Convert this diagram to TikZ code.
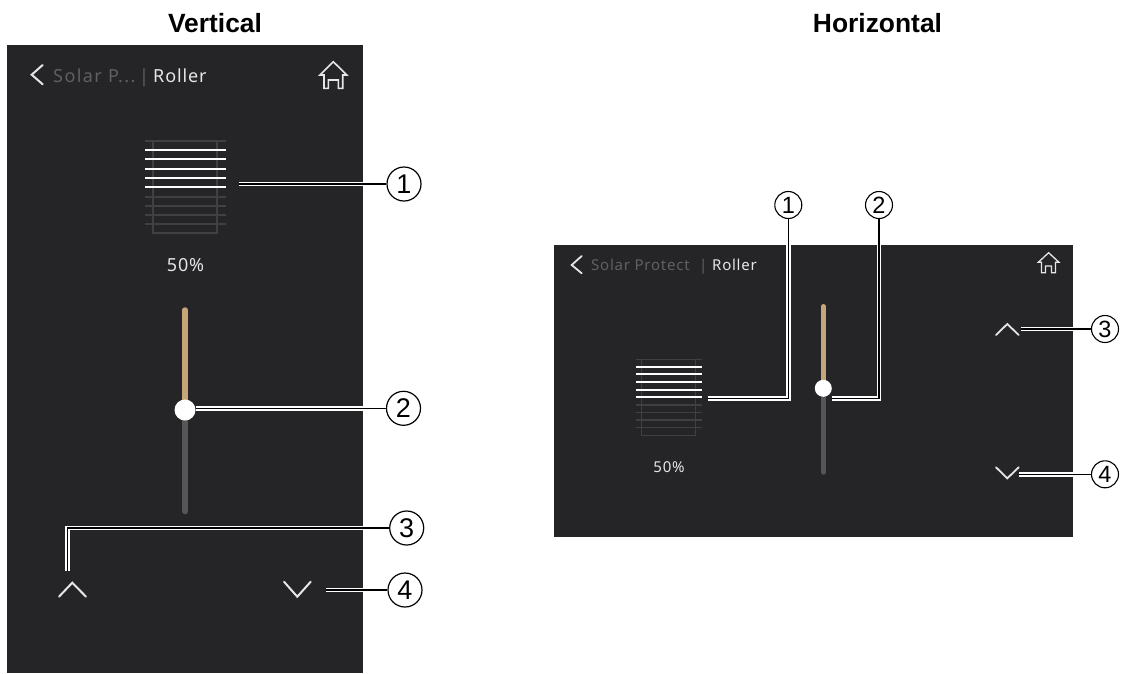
\documentclass[tikz,border=0pt]{standalone}
\usepackage{fontspec}
\setmainfont{Liberation Sans}
\newfontfamily\uifont[LetterSpace=5]{Noto Sans}
\newfontfamily\uiwide[LetterSpace=8]{Noto Sans}
\definecolor{panel}{HTML}{252427}
\definecolor{tan}{HTML}{C6A678}
\definecolor{trk}{HTML}{565656}
\definecolor{dimtxt}{HTML}{606062}
\definecolor{dimblind}{HTML}{404042}
\definecolor{lite}{HTML}{E6E6E6}
\tikzset{
  panelbox/.style={fill=panel,draw=none},
  lead/.style={draw=white,line width=1.7pt,double=black,double distance=1.2pt},
  numL/.style={circle,draw=black,line width=1.2pt,fill=white,minimum size=34pt,inner sep=0pt,text=black,font=\fontsize{27}{27}\selectfont},
  numS/.style={circle,draw=black,line width=1.1pt,fill=white,minimum size=27pt,inner sep=0pt,text=black,font=\fontsize{23.5}{24}\selectfont},
  head/.style={font=\bfseries\fontsize{26.4}{30}\selectfont,text=black,inner sep=0pt,anchor=base},
  icon/.style={draw=lite,line width=2pt,line cap=round,line join=miter},
  iconthin/.style={draw=lite,line width=1.3pt,line join=miter},
  blindon/.style={draw=white,line width=2pt},
  blindoff/.style={draw=dimblind,line width=1.7pt},
  uilabel/.style={inner sep=0pt,anchor=base west},
  track/.style={line width=5.5pt,line cap=round},
}
\begin{document}
\begin{tikzpicture}[x=1pt,y=-1pt]
\useasboundingbox (0,0) rectangle (1124,673);
\fill[white] (0,0) rectangle (1124,673);
% titles
\node[head] (hv) at (215,32.3) {Vertical};
\node[head] (hh) at (877.5,32.3) {Horizontal};
% panels
\fill[panelbox] (7,45) rectangle (363,673);
\fill[panelbox] (554,245) rectangle (1073,537);
% ---- vertical panel: header
\draw[icon] (42.7,65) -- (31.7,74.7) -- (42.7,84.3);
\node[uilabel,text=dimtxt,font=\uiwide\fontsize{18}{20}\selectfont] (vt1) at (53,82) {Solar P...};
\node[uilabel,text=dimtxt,font=\uifont\fontsize{18}{20}\selectfont] (vt2) at (139,82) {|};
\node[uilabel,text=lite,font=\uifont\fontsize{18}{20}\selectfont] (vt3) at (153,82) {Roller};
\draw[iconthin,line width=1.6pt] (324,75) -- (320,75) -- (333.3,61.7) -- (346.7,75) -- (342.7,75) -- (342.7,88.3) -- (338.3,88.3) -- (338.3,80) -- (328.3,80) -- (328.3,88.3) -- (324,88.3) -- cycle;
% vertical blind
\draw[blindoff] (152.7,142) -- (152.7,233) -- (217.3,233) -- (217.3,142);
\foreach \y in {140.7,196.7,205.7,215,224.3} \draw[blindoff] (145,\y) -- (226,\y);
\foreach \y in {150,159.3,168.7,178,187.3} \draw[blindon] (145,\y) -- (226,\y);
\node[inner sep=0pt,text=lite,font=\uifont\fontsize{18}{20}\selectfont] (vpct) at (185.5,265) {50\%};
% vertical slider
\draw[track,draw=trk] (185,410) -- (185,511.5);
\draw[track,draw=tan] (185,310) -- (185,410);
\node[circle,fill=white,minimum size=21pt,inner sep=0pt] (vthumb) at (185,410) {};
% vertical chevrons
\draw[icon] (59,596.7) -- (72.3,582.7) -- (86,596.7);
\draw[icon] (284,581.7) -- (297.3,596.7) -- (310.7,581.7);
% vertical callouts
\node[numL] (v1) at (404,184) {1};
\node[numL] (v2) at (403.5,408.3) {2};
\node[numL] (v3) at (406.7,528) {3};
\node[numL] (v4) at (405,590) {4};
\coordinate (va1) at (239,184);
\coordinate (va3) at (67.7,570.7);
\coordinate (va4) at (326,590);
\draw[lead] (va1) -- (v1.west);
\draw[lead] (vthumb.east |- v2.west) -- (v2.west);
\draw[lead] (va3) |- (v3.west);
\draw[lead] (va4) -- (v4.west);
% ---- horizontal panel: header
\draw[icon,line width=1.8pt] (581.7,256) -- (571.7,265) -- (581.7,273.3);
\node[uilabel,text=dimtxt,font=\uifont\fontsize{15}{17}\selectfont] (ht1) at (591,270) {Solar Protect};
\node[uilabel,text=dimtxt,font=\uifont\bfseries\fontsize{15}{17}\selectfont] (ht2) at (699,270) {|};
\node[uilabel,text=lite,font=\uifont\bfseries\fontsize{15}{17}\selectfont] (ht3) at (712,270) {Roller};
\draw[iconthin] (1041.5,262.3) -- (1038.3,262.3) -- (1048.6,252.7) -- (1059,262.3) -- (1055.5,262.3) -- (1055.5,272.7) -- (1051.5,272.7) -- (1051.5,266) -- (1045.5,266) -- (1045.5,272.7) -- (1041.5,272.7) -- cycle;
% horizontal blind
\draw[blindoff,line width=1.4pt] (641.7,360) -- (641.7,435.3) -- (695.3,435.3) -- (695.3,360);
\foreach \y in {359.3,405,412.3,420,427.7} \draw[blindoff,line width=1.4pt] (636,\y) -- (702,\y);
\foreach \y in {366.7,374.3,382,389.7,397.3} \draw[blindon,line width=1.8pt] (636,\y) -- (702,\y);
\node[inner sep=0pt,text=lite,font=\uifont\fontsize{15}{17}\selectfont] (hpct) at (669,467) {50\%};
% horizontal slider
\draw[track,line width=5pt,draw=trk] (823.3,388.3) -- (823.3,472.2);
\draw[track,line width=5pt,draw=tan] (823.3,306.5) -- (823.3,388.3);
\node[circle,fill=white,minimum size=17pt,inner sep=0pt] (hthumb) at (823.3,388.3) {};
% horizontal chevrons
\draw[icon,line width=1.8pt] (996,335) -- (1007.3,324) -- (1018.7,335);
\draw[icon,line width=1.8pt] (996,467.3) -- (1007.3,478.3) -- (1018.7,467.3);
% horizontal callouts
\node[numS] (h1) at (788.3,205) {1};
\node[numS] (h2) at (879,205) {2};
\node[numS] (h3) at (1105,329) {3};
\node[numS] (h4) at (1105,474.3) {4};
\coordinate (ha1) at (707.7,398.3);
\coordinate (ha2) at (831.7,398.3);
\coordinate (ha3) at (1020.7,329);
\coordinate (ha4) at (1019,474.3);
\draw[lead] (ha1) -| (h1.south);
\draw[lead] (ha2) -| (h2.south);
\draw[lead] (ha3) -- (h3.west);
\draw[lead] (ha4) -- (h4.west);
\end{tikzpicture}
\end{document}
